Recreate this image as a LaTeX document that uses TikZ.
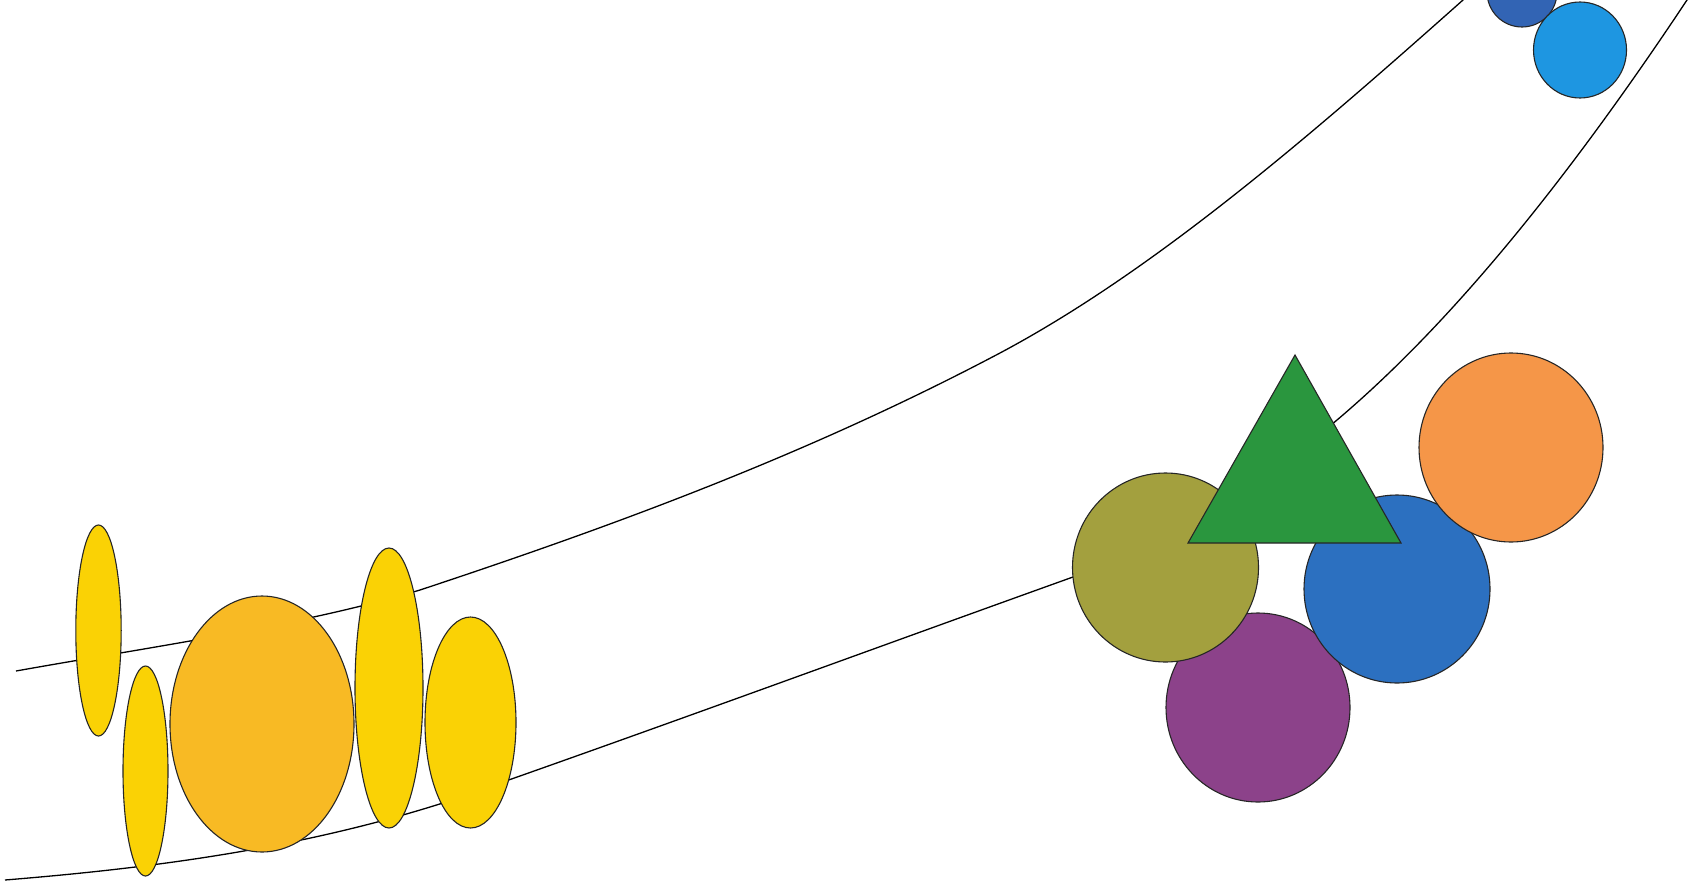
\documentclass[tikz,border=0pt]{standalone}
\begin{document}
\begin{tikzpicture}[x=1pt,y=-1pt,
  track/.style={draw=black, line width=1.3pt, line join=round},
  blob/.style={draw=black!85, line width=1.1pt},
  tri/.style={draw=black!85, line width=1.1pt, line join=miter}]
\definecolor{gold}{RGB}{250,210,5}
\definecolor{amber}{RGB}{248,186,36}
\definecolor{olive2}{RGB}{163,160,62}
\definecolor{green2}{RGB}{42,150,62}
\definecolor{purple2}{RGB}{140,66,138}
\definecolor{blue2}{RGB}{44,112,192}
\definecolor{orange2}{RGB}{245,150,72}
\definecolor{darkblue2}{RGB}{50,100,180}
\definecolor{lightblue2}{RGB}{30,150,225}
\useasboundingbox (0,0) rectangle (1691,883);
\fill[white] (0,0) rectangle (1691,883);
\clip (0,0) rectangle (1691,883);
% tracks
\draw[track] (16,671) .. controls (150,647) and (300,626) .. (420,590)
  .. controls (613,526) and (807,455) .. (1000,353)
  .. controls (1154,271) and (1309,137) .. (1463,0) -- ++(11,-10);
\draw[track] (5,880) .. controls (152,868) and (299,849) .. (446,802)
  .. controls (655,729) and (864,652) .. (1073,577)
  .. controls (1161,542) and (1249,495) .. (1337,420)
  .. controls (1454,321) and (1570,176) .. (1687,0) -- ++(7,-10.4);
% yellow group
\filldraw[blob, fill=gold] (98.5,630.5) ellipse [x radius=22.7, y radius=105.5];
\filldraw[blob, fill=gold] (145.5,771) ellipse [x radius=22.5, y radius=105];
\filldraw[blob, fill=amber] (262,724) ellipse [x radius=92, y radius=128];
\filldraw[blob, fill=gold] (389,688) ellipse [x radius=34, y radius=140];
\filldraw[blob, fill=gold] (470.5,722.5) ellipse [x radius=45.5, y radius=105.5];
% right cluster
\filldraw[blob, fill=purple2] (1258,707.5) ellipse [x radius=92, y radius=94.5];
\filldraw[blob, fill=olive2] (1165.5,567.5) ellipse [x radius=93, y radius=94.5];
\filldraw[blob, fill=blue2] (1397,589) ellipse [x radius=93, y radius=94];
\filldraw[blob, fill=orange2] (1511,447.5) ellipse [x radius=92, y radius=94.5];
\filldraw[tri, fill=green2] (1295,355) -- (1401,543) -- (1188,543) -- cycle;
% top right
\filldraw[blob, fill=darkblue2] (1522,-8) circle [radius=35];
\filldraw[blob, fill=lightblue2] (1580,50) ellipse [x radius=46.5, y radius=48];
\end{tikzpicture}
\end{document}
